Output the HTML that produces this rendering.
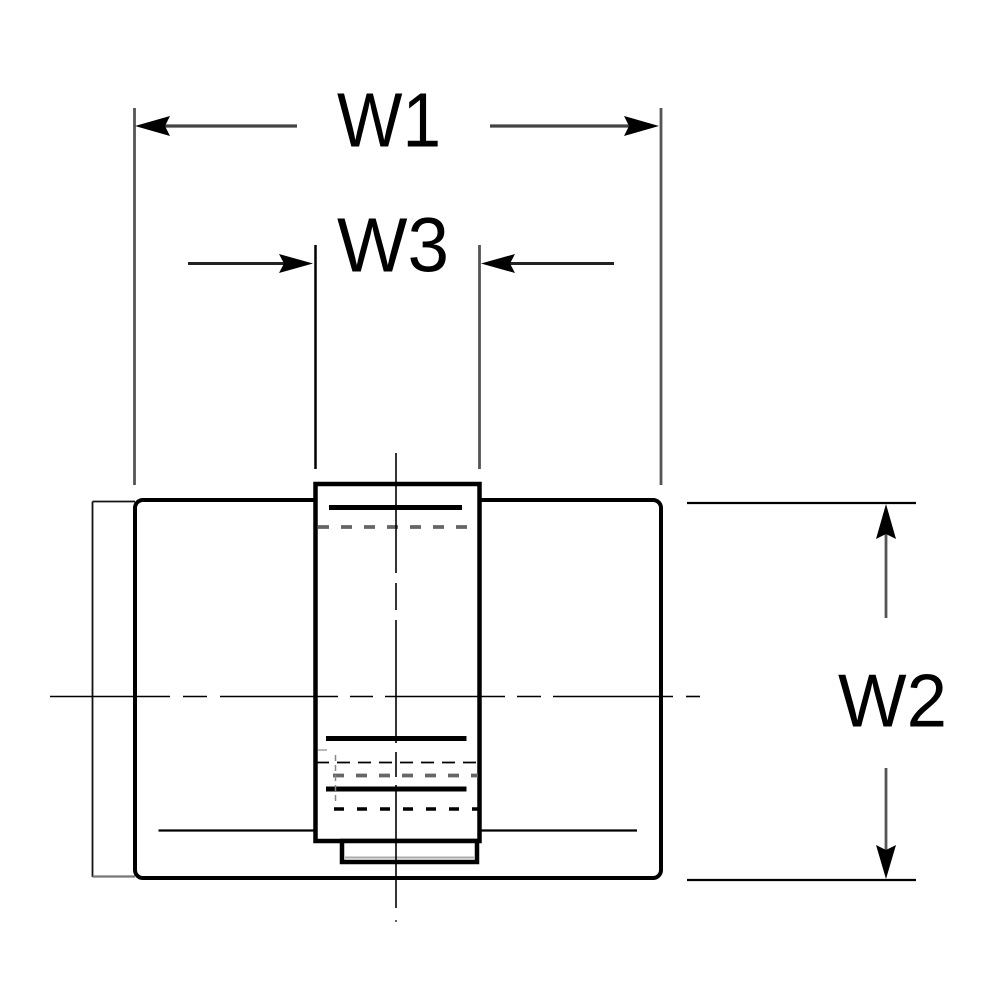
<!DOCTYPE html>
<html>
<head>
<meta charset="utf-8">
<style>
  html, body { margin: 0; padding: 0; background: #fff; }
  svg { display: block; }
  text { font-family: "Liberation Sans", Arial, sans-serif; fill: #000; }
</style>
</head>
<body>
<svg width="1000" height="1000" viewBox="0 0 1000 1000" xmlns="http://www.w3.org/2000/svg">
  <rect x="0" y="0" width="1000" height="1000" fill="#fff"/>

  <!-- ===== Extension lines (gray) ===== -->
  <g stroke="#555" stroke-width="2.8" fill="none">
    <line x1="134.5" y1="108" x2="134.5" y2="485"/>
    <line x1="661" y1="108" x2="661" y2="485"/>
    <line x1="479.5" y1="245" x2="479.5" y2="469"/>
  </g>
  <line x1="315.5" y1="245" x2="315.5" y2="469" stroke="#000" stroke-width="2.5"/>

  <!-- ===== W1 dimension ===== -->
  <g stroke="#444" stroke-width="3.2" fill="none">
    <line x1="160" y1="126" x2="297" y2="126"/>
    <line x1="490" y1="126" x2="632" y2="126"/>
  </g>
  <polygon points="135,126 170,116 165,126 170,136" fill="#000"/>
  <polygon points="659,126 624,116 629,126 624,136" fill="#000"/>
  <text x="337" y="146.5" font-size="77" textLength="104" lengthAdjust="spacingAndGlyphs">W1</text>

  <!-- ===== W3 dimension ===== -->
  <g stroke="#222" stroke-width="3" fill="none">
    <line x1="188" y1="263.5" x2="290" y2="263.5"/>
    <line x1="505" y1="263.5" x2="614" y2="263.5"/>
  </g>
  <polygon points="313,263.5 279,254 284,263.5 279,273" fill="#000"/>
  <polygon points="481,263.5 515,254 510,263.5 515,273" fill="#000"/>
  <text x="337" y="271.5" font-size="77" textLength="112" lengthAdjust="spacingAndGlyphs">W3</text>

  <!-- ===== W2 dimension ===== -->
  <g stroke="#000" stroke-width="2.2" fill="none">
    <line x1="687" y1="503" x2="916" y2="503"/>
    <line x1="687" y1="880" x2="916" y2="880"/>
  </g>
  <g stroke="#555" stroke-width="2.8" fill="none">
    <line x1="886" y1="530" x2="886" y2="618"/>
    <line x1="886" y1="768" x2="886" y2="855"/>
  </g>
  <polygon points="886,504 876,539 886,534 896,539" fill="#000"/>
  <polygon points="886,879 876,845 886,850 896,845" fill="#000"/>
  <text x="838" y="726.5" font-size="75" textLength="109" lengthAdjust="spacingAndGlyphs">W2</text>

  <!-- ===== Left flange (thin) ===== -->
  <g stroke="#111" stroke-width="1.8" fill="none">
    <line x1="92.5" y1="501.5" x2="92.5" y2="877"/>
    <line x1="92.5" y1="501.5" x2="135" y2="501.5"/>
  </g>
  <line x1="92.5" y1="876.5" x2="135" y2="876.5" stroke="#777" stroke-width="2.2"/>

  <!-- ===== Main body ===== -->
  <rect x="135" y="500" width="526" height="378" rx="8" ry="8" fill="none" stroke="#000" stroke-width="4"/>

  <!-- thin horizontal lines inside body -->
  <g stroke="#000" stroke-width="2.2" fill="none">
    <line x1="158.5" y1="830.5" x2="316" y2="830.5"/>
    <line x1="479" y1="830.5" x2="637" y2="830.5"/>
  </g>

  <!-- ===== Center box ===== -->
  <rect x="315.5" y="484" width="164" height="357" fill="#fff" stroke="#000" stroke-width="4.5"/>
  <!-- bottom lug -->
  <rect x="342" y="841" width="135" height="21" fill="#fff" stroke="#000" stroke-width="4.5"/>
  <line x1="345" y1="857.5" x2="474" y2="857.5" stroke="#aaa" stroke-width="2"/>

  <!-- inner thick lines -->
  <g stroke="#000" stroke-width="5" fill="none">
    <line x1="329" y1="507.5" x2="462" y2="507.5"/>
    <line x1="326" y1="738.5" x2="466.5" y2="738.5"/>
    <line x1="326" y1="789" x2="466.5" y2="789"/>
  </g>

  <!-- gray dashed lines -->
  <g stroke="#666" stroke-width="3.8" fill="none" stroke-dasharray="11 12">
    <line x1="318" y1="527" x2="474" y2="527"/>
    <line x1="333" y1="775.5" x2="478" y2="775.5"/>
  </g>
  <!-- dash-dot (thin) -->
  <line x1="316" y1="762.5" x2="479" y2="762.5" stroke="#000" stroke-width="1.8" stroke-dasharray="13 8"/>
  <!-- black dashed -->
  <line x1="334" y1="809" x2="479" y2="809" stroke="#000" stroke-width="3.5" stroke-dasharray="10 13"/>
  <!-- small vertical gray dashed -->
  <line x1="335.5" y1="755" x2="335.5" y2="805" stroke="#888" stroke-width="1.5" stroke-dasharray="6 4"/>
  <line x1="318" y1="750" x2="327" y2="750" stroke="#888" stroke-width="1.2"/>

  <!-- ===== Center lines ===== -->
  <!-- horizontal -->
  <g stroke="#000" stroke-width="1.6" fill="none">
    <line x1="50" y1="696.5" x2="170" y2="696.5"/>
    <line x1="183" y1="696.5" x2="207" y2="696.5"/>
    <line x1="220" y1="696.5" x2="338" y2="696.5"/>
    <line x1="350" y1="696.5" x2="373" y2="696.5"/>
    <line x1="385" y1="696.5" x2="505" y2="696.5"/>
    <line x1="517" y1="696.5" x2="541" y2="696.5"/>
    <line x1="553" y1="696.5" x2="673" y2="696.5"/>
    <line x1="686" y1="696.5" x2="700" y2="696.5"/>
  </g>
  <!-- vertical -->
  <g stroke="#000" stroke-width="1.6" fill="none">
    <line x1="396" y1="453" x2="396" y2="573"/>
    <line x1="396" y1="583" x2="396" y2="610"/>
    <line x1="396" y1="620" x2="396" y2="743"/>
    <line x1="396" y1="752" x2="396" y2="777"/>
    <line x1="396" y1="785" x2="396" y2="908"/>
  </g>
  <circle cx="396" cy="921" r="1" fill="#333"/>
</svg>
</body>
</html>
